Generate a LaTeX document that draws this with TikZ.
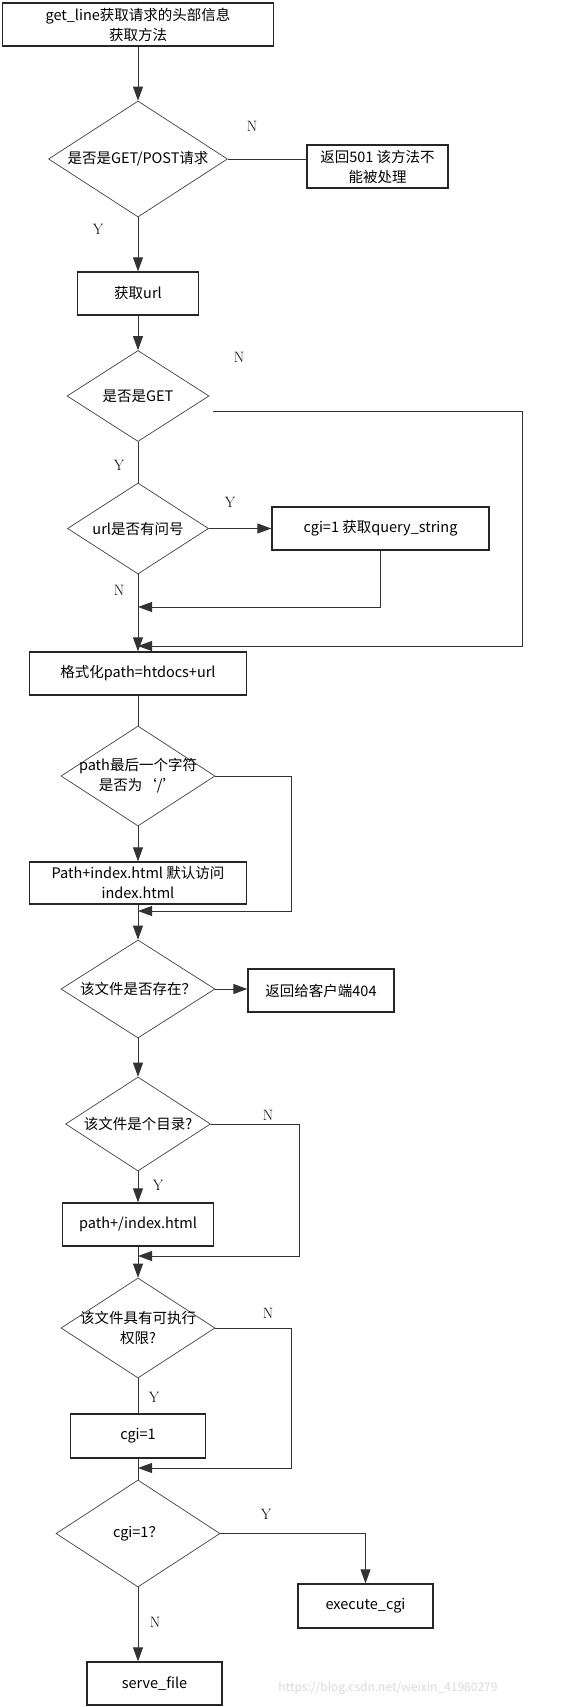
\documentclass[tikz,border=0pt]{standalone}
\usepackage{fontspec}
\newfontfamily\cjk{Noto Sans CJK SC}
\usetikzlibrary{shapes.geometric,arrows.meta,calc}

\begin{document}
\begin{tikzpicture}[x=1pt,y=-1pt,
	box/.style={draw=black!85,line width=1.3pt,rectangle,align=center,inner sep=0pt,font=\cjk\fontsize{14.5}{20}\selectfont},
	decision/.style={draw=black!75,line width=0.7pt,diamond,inner sep=0pt},
	dtext/.style={align=center,font=\cjk\fontsize{14.5}{20}\selectfont},
	yn/.style={font=\fontsize{15}{15}\selectfont},
	line/.style={draw=black!80,line width=0.9pt},
	arr/.style={line,-{Triangle[length=14pt,width=10pt]}}]
	\useasboundingbox (0,0) rectangle (567,1707);

	%process boxes
	\node[box,minimum width=271,minimum height=43] (start) at (138,24.5) {get\_line获取请求的头部信息\\获取方法};
	\node[box,minimum width=141,minimum height=43] (r501) at (377.5,166.5) {返回501 该方法不\\能被处理};
	\node[box,minimum width=121,minimum height=43] (geturl) at (138,293.5) {获取url};
	\node[box,minimum width=217,minimum height=43] (cgiq) at (380.5,528.5) {cgi=1 获取query\_string};
	\node[box,minimum width=217,minimum height=43] (fmt) at (138,673.5) {格式化path=htdocs+url};
	\node[box,minimum width=217,minimum height=42] (idx) at (138,883) {Path+index.html 默认访问\\index.html};
	\node[box,minimum width=146,minimum height=43] (r404) at (321,990.5) {返回给客户端404};
	\node[box,minimum width=151,minimum height=43] (pidx) at (138,1224.5) {path+/index.html};
	\node[box,minimum width=135,minimum height=44] (cgione) at (138,1436) {cgi=1};
	\node[box,minimum width=135,minimum height=44] (exec) at (365.5,1606) {execute\_cgi};
	\node[box,minimum width=135,minimum height=43] (serve) at (154.5,1683.5) {serve\_file};

	%decisions
	\node[decision,minimum width=179,minimum height=116,label={[dtext]center:{是否是GET/POST请求}}] (getpost) at (138,159) {};
	\node[decision,minimum width=142,minimum height=91,label={[dtext]center:{是否是GET}}] (isget) at (138,396) {};
	\node[decision,minimum width=141,minimum height=91,label={[dtext]center:{url是否有问号}}] (query) at (138,528.5) {};
	\node[decision,minimum width=154,minimum height=100,label={[dtext]center:{path最后一个字符\\是否为‘/’}}] (slash) at (138,776) {};
	\node[decision,minimum width=154,minimum height=98,label={[dtext]center:{该文件是否存在？}}] (exists) at (138,989) {};
	\node[decision,minimum width=145,minimum height=94,label={[dtext]center:{该文件是个目录?}}] (isdir) at (138,1124) {};
	\node[decision,minimum width=154,minimum height=100,label={[dtext]center:{该文件具有可执行\\权限?}}] (isexec) at (138,1328) {};
	\node[decision,minimum width=164,minimum height=107,label={[dtext]center:{cgi=1？}}] (cgiyes) at (138,1533.5) {};

	%bend points
	\coordinate (getn) at (213,411);
	\coordinate (getr) at (522,646);
	\coordinate (getin) at (138,646);
	\coordinate (qin) at (138,607);
	\coordinate (slashr) at (291,911);
	\coordinate (slashin) at (138,911);
	\coordinate (dirr) at (299,1256);
	\coordinate (dirin) at (138,1256);
	\coordinate (execr) at (291,1468);
	\coordinate (execin) at (138,1468);

	%connectors
	\draw[arr] (start.south) -- (getpost.north);
	\draw[line] (getpost.east) -- (getpost.east -| r501.west);
	\draw[arr] (getpost.south) -- (geturl.north);
	\draw[arr] (geturl.south) -- (isget.north);
	\draw[arr] (getn) -| (getr) -- (getin); %not GET
	\draw[line] (isget.south) -- (query.north);
	\draw[arr] (query.east) -- (cgiq.west);
	\draw[arr] (cgiq.south) |- (qin);
	\draw[arr] (query.south) -- (fmt.north);
	\draw[line] (fmt.south) -- (slash.north);
	\draw[arr] (slash.east) -| (slashr) -- (slashin);
	\draw[arr] (slash.south) -- (idx.north);
	\draw[arr] (idx.south) -- (exists.north);
	\draw[arr] (exists.east) -- (exists.east -| r404.west);
	\draw[arr] (exists.south) -- (isdir.north);
	\draw[arr] (isdir.east) -| (dirr) -- (dirin);
	\draw[arr] (isdir.south) -- (pidx.north);
	\draw[arr] (pidx.south) -- (isexec.north);
	\draw[arr] (isexec.east) -| (execr) -- (execin);
	\draw[line] (isexec.south) -- (cgione.north);
	\draw[line] (cgione.south) -- (cgiyes.north);
	\draw[arr] (cgiyes.east) -| (exec.north);
	\draw[arr] (cgiyes.south) -- (cgiyes.south |- serve.north);

	%Y and N labels
	\node[yn] (n1) at (252,126) {N};
	\node[yn] (y1) at (98,229) {Y};
	\node[yn] (n2) at (239,357) {N};
	\node[yn] (y2) at (119,465) {Y};
	\node[yn] (y3) at (230,502) {Y};
	\node[yn] (n3) at (119,590) {N};
	\node[yn] (n4) at (268,1115) {N};
	\node[yn] (y4) at (158,1185) {Y};
	\node[yn] (n5) at (268,1313) {N};
	\node[yn] (y5) at (154,1397) {Y};
	\node[yn] (y6) at (266,1514) {Y};
	\node[yn] (n6) at (155,1622) {N};

	%watermark
	\node[font=\cjk\fontsize{12}{12}\selectfont,text=black!15] (mark) at (388,1688) {https://blog.csdn.net/weixin\_41980279};
\end{tikzpicture}
\end{document}
